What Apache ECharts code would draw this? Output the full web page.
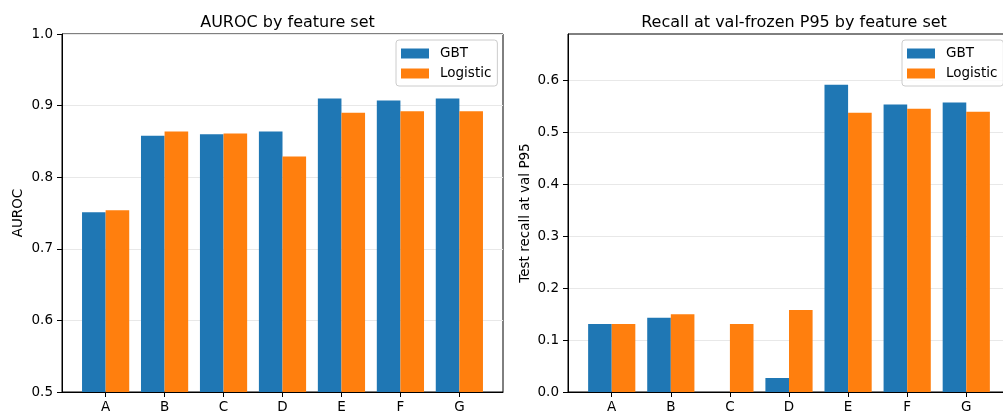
<!DOCTYPE html>
<html>
<head>
<meta charset="utf-8">
<script src="https://cdn.jsdelivr.net/npm/echarts@6/dist/echarts.min.js"></script>
<style>
html,body{margin:0;padding:0;background:#fff;}
#chart{width:1003px;height:412px;}
</style>
</head>
<body>
<div id="chart"></div>
<script>
const categories = ['A','B','C','D','E','F','G'];
const aurocGBT = [0.751, 0.858, 0.860, 0.864, 0.910, 0.907, 0.910];
const aurocLogistic = [0.754, 0.864, 0.861, 0.829, 0.890, 0.892, 0.892];
const recallGBT = [0.131, 0.143, 0.0, 0.027, 0.592, 0.554, 0.558];
const recallLogistic = [0.131, 0.150, 0.131, 0.158, 0.538, 0.546, 0.540];
const aurocTicks = [0.5, 0.6, 0.7, 0.8, 0.9, 1.0];
const recallTicks = [0.0, 0.1, 0.2, 0.3, 0.4, 0.5, 0.6];

const FONT = 'DejaVu Sans';
const BLUE = '#1f77b4', ORANGE = '#ff7f0e';
const idx = categories.map((c, i) => i);
const pairs = arr => arr.map((v, i) => [i, v]);

function xAxis(gridIndex) {
  return {
    type: 'value', gridIndex, min: -0.74, max: 6.74,
    axisLine: {show: true, onZero: false, lineStyle: {color: '#000', width: 1}},
    axisTick: {show: true, customValues: idx, length: 5, lineStyle: {color: '#000'}},
    axisLabel: {customValues: idx, formatter: v => categories[Math.round(v)] || '',
      color: '#000', fontFamily: FONT, fontSize: 13.5, margin: 8.5},
    splitLine: {show: false}
  };
}
function yAxis(gridIndex, min, max, ticks, name, gap) {
  return {
    type: 'value', gridIndex, min, max, interval: 0.1,
    name, nameLocation: 'middle', nameGap: gap,
    nameTextStyle: {color: '#000', fontFamily: FONT, fontSize: 13.5},
    axisLine: {show: true, onZero: false, lineStyle: {color: '#000', width: 1}},
    axisTick: {show: true, customValues: ticks, length: 5, lineStyle: {color: '#000'}},
    axisLabel: {customValues: ticks, formatter: v => v.toFixed(1),
      color: '#000', fontFamily: FONT, fontSize: 13.5, margin: 9},
    splitLine: {show: true, lineStyle: {color: '#e8e8e8', width: 1}}
  };
}
function bar(name, data, color, xi, yi) {
  return {
    type: 'bar', name, data: pairs(data), xAxisIndex: xi, yAxisIndex: yi,
    barWidth: 23.6, barGap: '0%', itemStyle: {color}, animation: false
  };
}
function legend(left) {
  return {
    data: ['GBT', 'Logistic'], orient: 'vertical', left, top: 40,
    itemWidth: 28, itemHeight: 10, itemGap: 5, icon: 'rect',
    padding: [6, 6, 5, 5],
    borderColor: '#cccccc', borderWidth: 1, borderRadius: 3,
    backgroundColor: 'rgba(255,255,255,0.8)',
    textStyle: {color: '#000', fontFamily: FONT, fontSize: 13.5, lineHeight: 15, padding: [0, 0, 0, 6]}
  };
}

const chart = echarts.init(document.getElementById('chart'), null, {renderer: 'canvas'});
chart.setOption({
  animation: false,
  backgroundColor: '#fff',
  title: [
    {text: 'AUROC by feature set', left: 282.5, top: 10, textAlign: 'center',
     textStyle: {fontFamily: FONT, fontSize: 16, fontWeight: 'normal', color: '#000'}},
    {text: 'Recall at val-frozen P95 by feature set', left: 789, top: 10, textAlign: 'center',
     textStyle: {fontFamily: FONT, fontSize: 16, fontWeight: 'normal', color: '#000'}}
  ],
  legend: [legend(396), legend(902)],
  grid: [
    {left: 62, top: 34, width: 441, height: 358, outerBoundsMode: 'none', containLabel: false,
     show: true, borderColor: '#000', borderWidth: 1, backgroundColor: 'transparent'},
    {left: 568, top: 34, width: 442, height: 358, outerBoundsMode: 'none', containLabel: false,
     show: true, borderColor: '#000', borderWidth: 1, backgroundColor: 'transparent'}
  ],
  xAxis: [xAxis(0), xAxis(1)],
  yAxis: [
    yAxis(0, 0.5, 1.0, aurocTicks, 'AUROC', 37),
    yAxis(1, 0, 0.69, recallTicks, 'Test recall at val P95', 36)
  ],
  series: [
    bar('GBT', aurocGBT, BLUE, 0, 0),
    bar('Logistic', aurocLogistic, ORANGE, 0, 0),
    bar('GBT', recallGBT, BLUE, 1, 1),
    bar('Logistic', recallLogistic, ORANGE, 1, 1)
  ]
});
</script>
</body>
</html>
